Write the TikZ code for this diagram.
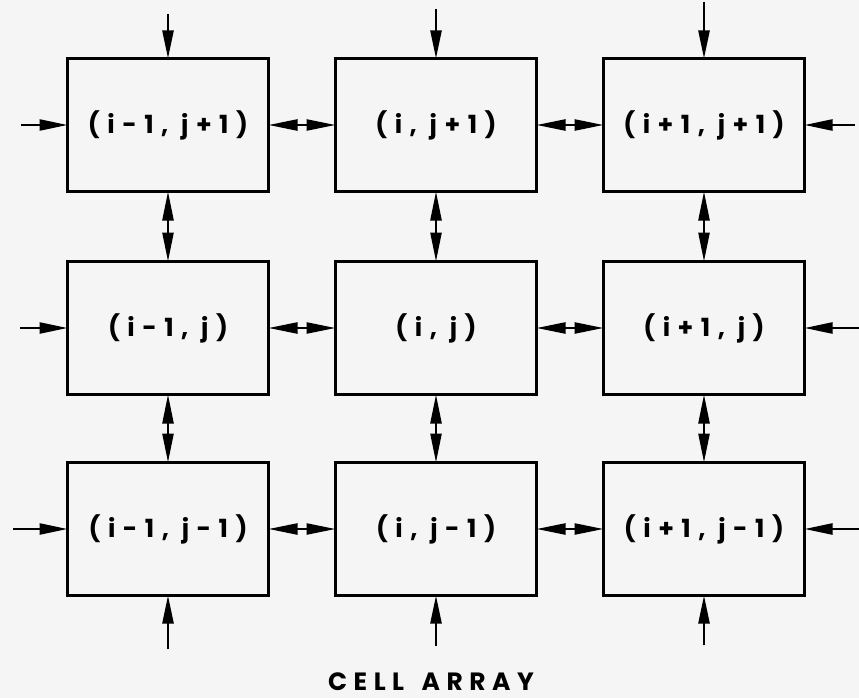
\documentclass[tikz,border=0pt]{standalone}
\usepackage{fontspec}
\setmainfont{Poppins}
\newfontfamily\cellfont{Poppins}[LetterSpace=30]
\newfontfamily\capfont{Poppins}[LetterSpace=26]
\usetikzlibrary{arrows.meta}
\tikzset{
  cell/.style={draw, line width=2.8pt, minimum width=201pt, minimum height=133pt,
    inner sep=0pt, outer sep=0pt, font=\cellfont\fontsize{25}{28}\selectfont\bfseries},
  tip/.style={line width=2.4pt, -{Triangle[length=28pt,width=11pt]}},
  dtip/.style={line width=2.4pt, {Triangle[length=29pt,width=11pt]}-{Triangle[length=29pt,width=11pt]}}
}
\begin{document}
\begin{tikzpicture}[x=1pt,y=-1pt]
\fill[white!96!black] (0,0) rectangle (859,698);
\useasboundingbox (0,0) rectangle (859,698);
% cells
\node[cell] (a1) at (168,125) {(i-1, j+1)};
\node[cell] (b1) at (436,125) {(i, j+1)};
\node[cell] (c1) at (704,125) {(i+1, j+1)};
\node[cell] (a2) at (168,328) {(i-1, j)};
\node[cell] (b2) at (436,328) {(i, j)};
\node[cell] (c2) at (704,328) {(i+1, j)};
\node[cell] (a3) at (168,529) {(i-1, j-1)};
\node[cell] (b3) at (436,529) {(i, j-1)};
\node[cell] (c3) at (704,529) {(i+1, j-1)};
% free ends
\coordinate (ta) at (168,14);
\coordinate (tb) at (436,9);
\coordinate (tc) at (704,2);
\coordinate (ba) at (168,649);
\coordinate (bb) at (436,646);
\coordinate (bc) at (704,645);
\coordinate (l1) at (21,125);
\coordinate (l2) at (20,328);
\coordinate (l3) at (13,529);
\coordinate (r1) at (855,125);
\coordinate (r2) at (859,328);
\coordinate (r3) at (859,529);
% external inputs
\draw[tip] (ta) -- (a1.north);
\draw[tip] (tb) -- (b1.north);
\draw[tip] (tc) -- (c1.north);
\draw[tip] (ba) -- (a3.south);
\draw[tip] (bb) -- (b3.south);
\draw[tip] (bc) -- (c3.south);
\draw[tip] (l1) -- (a1.west);
\draw[tip] (l2) -- (a2.west);
\draw[tip] (l3) -- (a3.west);
\draw[tip] (r1) -- (c1.east);
\draw[tip] (r2) -- (c2.east);
\draw[tip] (r3) -- (c3.east);
% horizontal links
\draw[dtip] (a1.east) -- (b1.west);
\draw[dtip] (b1.east) -- (c1.west);
\draw[dtip] (a2.east) -- (b2.west);
\draw[dtip] (b2.east) -- (c2.west);
\draw[dtip] (a3.east) -- (b3.west);
\draw[dtip] (b3.east) -- (c3.west);
% vertical links
\draw[dtip] (a1.south) -- (a2.north);
\draw[dtip] (b1.south) -- (b2.north);
\draw[dtip] (c1.south) -- (c2.north);
\draw[dtip] (a2.south) -- (a3.north);
\draw[dtip] (b2.south) -- (b3.north);
\draw[dtip] (c2.south) -- (c3.north);
% caption
\node[font=\capfont\fontsize{25}{28}\selectfont\bfseries] (cap) at (431,682) {CELL\hspace{0.7em}ARRAY};
\end{tikzpicture}
\end{document}
